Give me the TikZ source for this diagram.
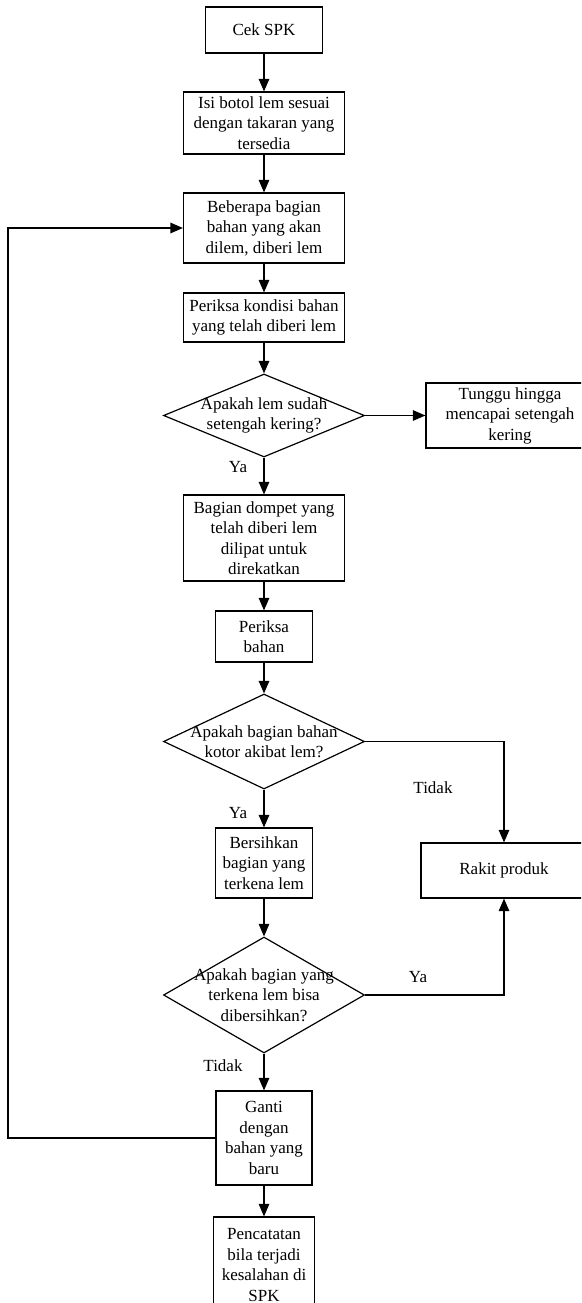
\documentclass[tikz,border=0pt]{standalone}
\usepackage{fontspec}
\setmainfont{Liberation Serif}
\usetikzlibrary{shapes.geometric,arrows.meta}

\begin{document}
\begin{tikzpicture}[x=1pt,y=-1pt,
  font=\fontsize{17}{20.5}\selectfont,
  line width=1.2pt,
  box/.style={draw, rectangle, align=center, inner sep=0pt},
  dec/.style={draw, diamond, inner sep=0pt},
  txt/.style={align=center, inner sep=0pt},
  arr/.style={-{Triangle[length=12.5pt,width=10.5pt]}}]

\useasboundingbox (0,0) rectangle (581,1303);
\clip (0,0) rectangle (581,1303);

% process steps
\node[box, minimum width=117pt, minimum height=46pt] (n1) at (264,30) {Cek SPK};
\node[box, minimum width=161pt, minimum height=62pt] (n2) at (264,123)
  {Isi botol lem sesuai\\dengan takaran yang\\tersedia};
\node[box, minimum width=161pt, minimum height=70pt] (n3) at (264,228)
  {Beberapa bagian\\bahan yang akan\\dilem, diberi lem};
\node[box, minimum width=161pt, minimum height=49pt] (n4) at (264,317.5)
  {Periksa kondisi bahan\\yang telah diberi lem};
\node[dec, minimum width=201pt, minimum height=83pt,
  label={[txt]center:Apakah lem sudah\\setengah kering?}] (d1) at (264,415.5) {};
\node[box, minimum width=168pt, minimum height=65pt] (n5) at (510,415.5)
  {Tunggu hingga\\mencapai setengah\\kering};
\node[box, minimum width=161pt, minimum height=86pt] (n6) at (264,538)
  {Bagian dompet yang\\telah diberi lem\\dilipat untuk\\direkatkan};
\node[box, minimum width=97pt, minimum height=51pt] (n7) at (264,636.5)
  {Periksa\\bahan};
\node[dec, minimum width=201pt, minimum height=95pt,
  label={[txt]center:Apakah bagian bahan\\kotor akibat lem?}] (d2) at (264,741.5) {};
\node[box, minimum width=97pt, minimum height=70pt] (n8) at (264,863)
  {Bersihkan\\bagian yang\\terkena lem};
\node[box, minimum width=166pt, minimum height=55pt] (n9) at (504,870.5)
  {Rakit produk};
\node[dec, minimum width=201pt, minimum height=116pt,
  label={[txt]center:Apakah bagian yang\\terkena lem bisa\\dibersihkan?}] (d3) at (264,995) {};
\node[box, minimum width=96pt, minimum height=94pt] (n10) at (264,1138)
  {Ganti\\dengan\\bahan yang\\baru};
\node[box, minimum width=101pt, minimum height=96pt] (n11) at (264,1265)
  {Pencatatan\\bila terjadi\\kesalahan di\\SPK};

% main flow
\draw[arr] (n1) -- (n2);
\draw[arr] (n2) -- (n3);
\draw[arr] (n3) -- (n4);
\draw[arr] (n4) -- (d1);
\draw[arr] (d1.east) -- (n5.west);
\draw[arr] (d1) -- (n6);
\draw[arr] (n6) -- (n7);
\draw[arr] (n7) -- (d2);
\draw[arr] (d2) -- (n8);
\draw[arr] (d2.east) -| (n9.north);
\draw[arr] (n8) -- (d3);
\draw[arr] (d3.east) -| (n9.south);
\draw[arr] (d3) -- (n10);
\draw[arr] (n10) -- (n11);

% return loop to the gluing step
\coordinate (loop) at (8,1138);
\draw[arr] (n10.west) -- (loop) |- (n3.west);

% branch labels
\node[txt] (l1) at (238,467) {Ya};
\node[txt] (l2) at (238,813) {Ya};
\node[txt] (l3) at (433,788) {Tidak};
\node[txt] (l4) at (418,977) {Ya};
\node[txt] (l5) at (223,1066) {Tidak};

\end{tikzpicture}
\end{document}
